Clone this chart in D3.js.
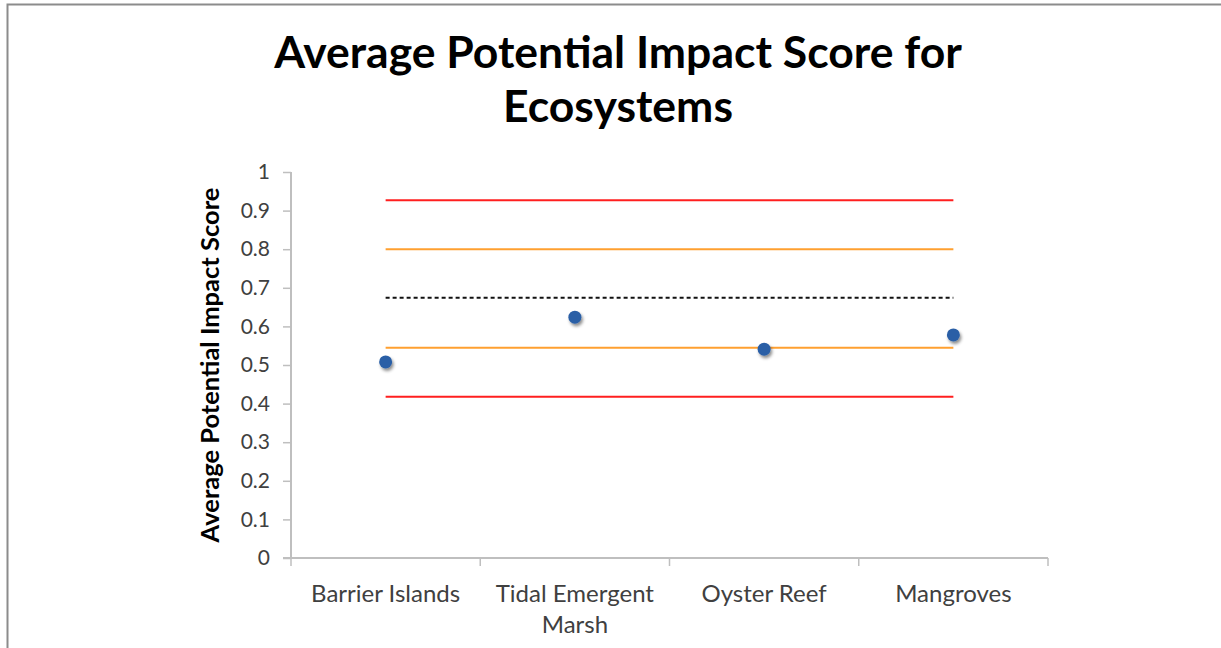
<!DOCTYPE html>
<meta charset="utf-8">
<script src="https://d3js.org/d3.v7.min.js"></script>
<style>
    body { margin: 0; background: #fff; }
    text { font-family: Lato, "Open Sans", sans-serif; }
</style>
<div id="my_dataviz"></div>
<script>

    // data
    var categories = ["Barrier Islands", "Tidal Emergent Marsh", "Oyster Reef", "Mangroves"];
    var scores = [0.508, 0.624, 0.541, 0.578];
    var yTicks = [0, 0.1, 0.2, 0.3, 0.4, 0.5, 0.6, 0.7, 0.8, 0.9, 1];
    // reference lines (same value at every category)
    var upperRed = 0.927, upperOrange = 0.80, meanLine = 0.674, lowerOrange = 0.545, lowerRed = 0.418;

    var W = 1221, H = 648;
    var margin = {top: 172, right: 173, bottom: 90, left: 291},
        width = W - margin.left - margin.right,
        height = H - margin.top - margin.bottom;

    var root = d3.select("#my_dataviz")
        .append("svg")
        .attr("width", W)
        .attr("height", H);

    // frame of the picture (only top and left edges show)
    root.append("path")
        .attr("d", "M7.5," + H + "V4.5H" + W)
        .attr("fill", "none")
        .attr("stroke", "#8c8c8c")
        .attr("stroke-width", 2);

    var defs = root.append("defs");
    var f = defs.append("filter").attr("id", "shadow")
        .attr("x", "-50%").attr("y", "-50%").attr("width", "200%").attr("height", "200%");
    f.append("feDropShadow")
        .attr("dx", 1.5).attr("dy", 2.5).attr("stdDeviation", 1.6)
        .attr("flood-color", "#000").attr("flood-opacity", 0.45);

    // title
    var title = root.append("text")
        .attr("text-anchor", "middle")
        .attr("font-weight", "bold")
        .attr("font-size", 44.5)
        .attr("fill", "#000");
    title.append("tspan").attr("x", 618).attr("y", 68).text("Average Potential Impact Score for");
    title.append("tspan").attr("x", 618).attr("y", 122).text("Ecosystems");

    var svg = root.append("g")
        .attr("transform", "translate(" + margin.left + "," + margin.top + ")");

    var x = d3.scaleBand()
        .domain(categories)
        .range([0, width]);

    var y = d3.scaleLinear()
        .domain([0, 1])
        .range([height, 0]);

    // Y axis
    var yAxis = svg.append("g")
        .call(d3.axisLeft(y).tickValues(yTicks).tickSize(8).tickPadding(13)
            .tickFormat(function (d) { return d3.format("~g")(d); }));
    yAxis.select(".domain").attr("stroke", "#bfbfbf").attr("stroke-width", 2).attr("d", "M0," + height + "V0");
    yAxis.selectAll(".tick line").attr("stroke", "#bfbfbf").attr("stroke-width", 1.5);
    yAxis.selectAll(".tick text")
        .attr("font-size", 21)
        .attr("fill", "#404040")
        .attr("font-family", "Lato, sans-serif");

    // X axis
    var xAxis = svg.append("g")
        .attr("transform", "translate(0," + height + ")")
        .call(d3.axisBottom(x).tickSize(0).tickPadding(0));
    xAxis.select(".domain").remove();
    xAxis.selectAll(".tick line").remove();
    xAxis.selectAll(".tick text").remove();
    xAxis.append("line")
        .attr("x1", -8).attr("x2", width)
        .attr("stroke", "#bfbfbf").attr("stroke-width", 2);
    var edges = categories.map(function (c) { return x(c); }).concat([width]);
    xAxis.selectAll(".edge")
        .data(edges)
        .enter()
        .append("line")
        .attr("x1", function (d) { return d; })
        .attr("x2", function (d) { return d; })
        .attr("y1", 0).attr("y2", 8)
        .attr("stroke", "#bfbfbf").attr("stroke-width", 1.5);

    // category labels, wrapped like the original
    var labelLines = {
        "Barrier Islands": ["Barrier Islands"],
        "Tidal Emergent Marsh": ["Tidal Emergent", "Marsh"],
        "Oyster Reef": ["Oyster Reef"],
        "Mangroves": ["Mangroves"]
    };
    categories.forEach(function (c) {
        var t = svg.append("text")
            .attr("text-anchor", "middle")
            .attr("font-size", 24)
            .attr("fill", "#404040");
        labelLines[c].forEach(function (l, i) {
            t.append("tspan")
                .attr("x", x(c) + x.bandwidth() / 2)
                .attr("y", height + 44 + i * 31)
                .text(l);
        });
    });

    // y axis title
    svg.append("text")
        .attr("transform", "translate(" + (-72) + "," + (height / 2) + ") rotate(-90)")
        .attr("text-anchor", "middle")
        .attr("font-weight", "bold")
        .attr("font-size", 25.5)
        .attr("fill", "#000")
        .text("Average Potential Impact Score");

    // reference lines
    var line = d3.line()
        .x(function (d) { return x(d.c) + x.bandwidth() / 2; })
        .y(function (d) { return y(d.v); });

    var refs = [
        {v: upperRed, color: "#ff1f1f", dash: null},
        {v: upperOrange, color: "#ffa030", dash: null},
        {v: meanLine, color: "#111", dash: "4,3"},
        {v: lowerOrange, color: "#ffa030", dash: null},
        {v: lowerRed, color: "#ff1f1f", dash: null}
    ];
    refs.forEach(function (r) {
        svg.append("path")
            .datum(categories.map(function (c) { return {c: c, v: r.v}; }))
            .attr("d", line)
            .attr("fill", "none")
            .attr("stroke", r.color)
            .attr("stroke-width", 2)
            .attr("stroke-dasharray", r.dash);
    });

    // dots
    svg.append("g")
        .selectAll("circle")
        .data(scores)
        .enter()
        .append("circle")
        .attr("cx", function (d, i) { return x(categories[i]) + x.bandwidth() / 2; })
        .attr("cy", function (d) { return y(d); })
        .attr("r", 6.5)
        .attr("fill", "#2a5fa6")
        .attr("filter", "url(#shadow)");

</script>
